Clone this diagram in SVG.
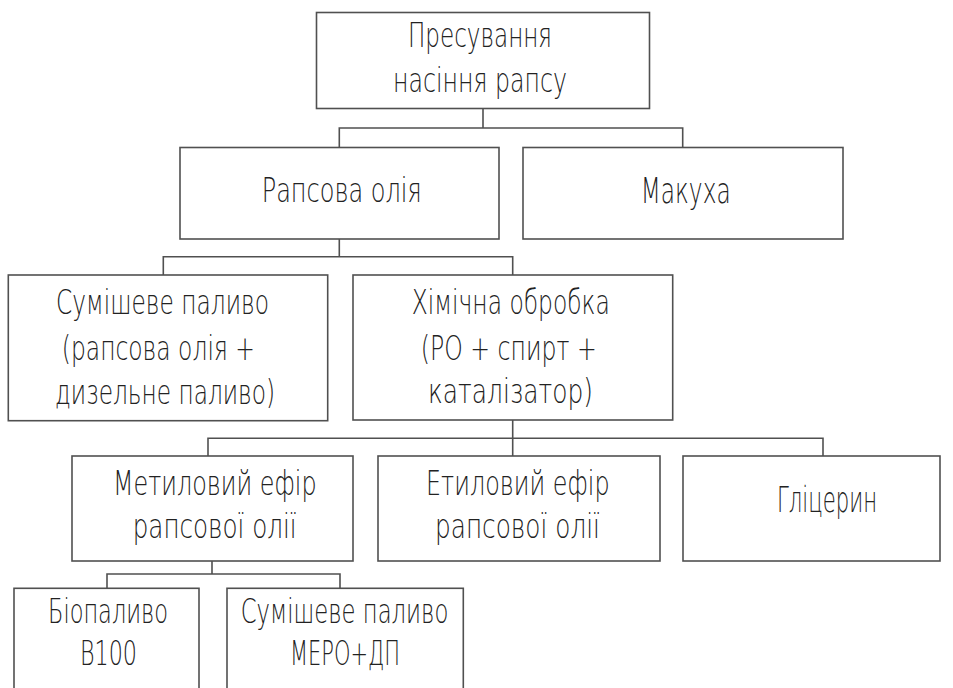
<svg xmlns="http://www.w3.org/2000/svg" width="953" height="688" viewBox="0 0 953 688">
<style>
.box{fill:#fff;stroke:#505050;stroke-width:1.6}
.ln{fill:none;stroke:#505050;stroke-width:1.6}
text{font-family:"DejaVu Sans","Liberation Sans",sans-serif;font-size:33px;font-weight:200;fill:#222;text-anchor:middle}
.big{font-size:35px}
</style>
<rect width="953" height="688" fill="#fff"/>
<g id="connectors">
<path class="ln" d="M483,108 V128 M339.3,147.5 V128 H682.7 V147.5"/>
<path class="ln" d="M339.3,239 V256.7 M163.3,275 V256.7 H512.7 V275"/>
<path class="ln" d="M512.7,420 V456 M208,456 V438.3 H823 V456"/>
<path class="ln" d="M212,561 V574 M107,588 V574 H340 V588"/>
</g>
<g id="n1"><rect class="box" x="316.5" y="12.5" width="333" height="96"/>
<text x="480" y="47.3" textLength="144" lengthAdjust="spacingAndGlyphs">Пресування</text>
<text x="480" y="91.7" textLength="174" lengthAdjust="spacingAndGlyphs">насіння рапсу</text></g>
<g id="n2"><rect class="box" x="180" y="147.5" width="319" height="91.5"/>
<text x="341.7" y="202" textLength="160" lengthAdjust="spacingAndGlyphs">Рапсова олія</text></g>
<g id="n3"><rect class="box" x="523" y="147.5" width="320" height="91.5"/>
<text class="big" x="685.7" y="202.7" textLength="90" lengthAdjust="spacingAndGlyphs">Макуха</text></g>
<g id="n4"><rect class="box" x="8.3" y="275" width="319.4" height="145.7"/>
<text x="162.5" y="314" textLength="213" lengthAdjust="spacingAndGlyphs">Сумішеве паливо</text>
<text x="158.3" y="360" textLength="193" lengthAdjust="spacingAndGlyphs">(рапсова олія +</text>
<text x="165" y="404" textLength="220" lengthAdjust="spacingAndGlyphs">дизельне паливо)</text></g>
<g id="n5"><rect class="box" x="353" y="275" width="319.7" height="145"/>
<text x="510.8" y="314" textLength="198" lengthAdjust="spacingAndGlyphs">Хімічна обробка</text>
<text x="508.7" y="360" textLength="176" lengthAdjust="spacingAndGlyphs">(РО + спирт +</text>
<text x="510.5" y="403" textLength="165" lengthAdjust="spacingAndGlyphs">каталізатор)</text></g>
<g id="n6"><rect class="box" x="72" y="456" width="281" height="105"/>
<text x="214.8" y="495" textLength="203.7" lengthAdjust="spacingAndGlyphs">Метиловий ефір</text>
<text x="214.7" y="538" textLength="164" lengthAdjust="spacingAndGlyphs">рапсової олії</text></g>
<g id="n7"><rect class="box" x="378" y="456" width="282" height="105"/>
<text x="517.8" y="495" textLength="183.6" lengthAdjust="spacingAndGlyphs">Етиловий ефір</text>
<text x="517.5" y="538" textLength="165" lengthAdjust="spacingAndGlyphs">рапсової олії</text></g>
<g id="n8"><rect class="box" x="683" y="456" width="257" height="105"/>
<text class="big" x="827" y="511.7" textLength="100" lengthAdjust="spacingAndGlyphs">Гліцерин</text></g>
<g id="n9"><rect class="box" x="14" y="588.3" width="185" height="120"/>
<text x="108" y="622.5" textLength="120" lengthAdjust="spacingAndGlyphs">Біопаливо</text>
<text x="108.5" y="665" textLength="57" lengthAdjust="spacingAndGlyphs">В100</text></g>
<g id="n10"><rect class="box" x="227" y="588.3" width="236.3" height="120"/>
<text x="344.5" y="622.7" textLength="207.6" lengthAdjust="spacingAndGlyphs">Сумішеве паливо</text>
<text x="345" y="665" textLength="110" lengthAdjust="spacingAndGlyphs">МЕРО+ДП</text></g>
</svg>
